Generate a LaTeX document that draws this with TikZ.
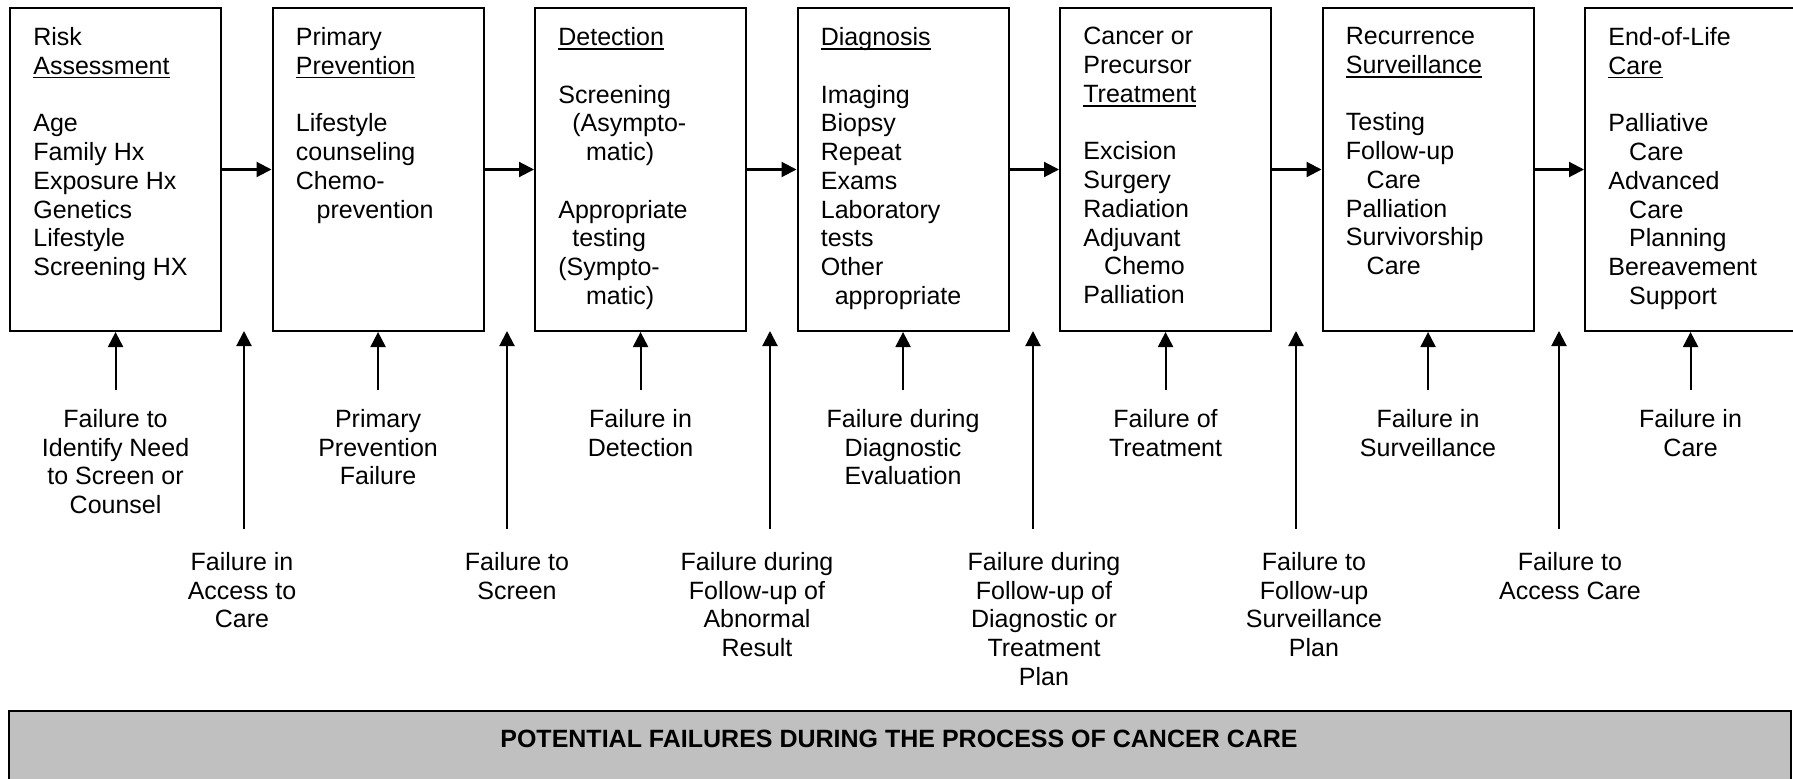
\documentclass[tikz,border=0pt]{standalone}
\usepackage{fontspec}
\setmainfont{Liberation Sans}
\usetikzlibrary{arrows.meta, positioning}

\definecolor{bandgray}{RGB}{192,192,192}
\newcommand\headword[1]{\setbox0\hbox{#1}\rlap{\rule[-2pt]{\wd0}{0.7pt}}\box0}

\begin{document}
\begin{tikzpicture}[x=0.48pt, y=-0.48pt,
  font=\fontsize{12}{13.8}\selectfont,
  stage/.style={draw, line width=1pt, anchor=north west, inner sep=0pt,
    minimum width=101.3pt, minimum height=155pt},
  stagetext/.style={anchor=north west, inner sep=0pt, align=left},
  failure/.style={anchor=north, inner xsep=0pt, inner ysep=9.1pt, align=center},
  flow/.style={-{Triangle[length=7.2pt, width=7.2pt]}, line width=1pt}]

  \path[use as bounding box, clip] (0,0) rectangle (1793,779);

  % stages of care
  \node[stage] (risk) at (9,7) {};
  \node[stage] (prevent) at (271.5,7) {};
  \node[stage] (detect) at (534,7) {};
  \node[stage] (diagnose) at (796.5,7) {};
  \node[stage] (treat) at (1059,7) {};
  \node[stage] (surveil) at (1321.5,7) {};
  \node[stage] (eol) at (1584,7) {};

  \node[stagetext, below right=9.6pt and 11.5pt of risk.north west] (risk-t)
    {Risk\\\headword{Assessment}\\ \\Age\\Family Hx\\Exposure Hx\\Genetics\\Lifestyle\\Screening HX};
  \node[stagetext, below right=9.6pt and 11.5pt of prevent.north west] (prevent-t)
    {Primary\\\headword{Prevention}\\ \\Lifestyle\\counseling\\Chemo-\\\hspace*{10pt}prevention};
  \node[stagetext, below right=9.6pt and 11.5pt of detect.north west] (detect-t)
    {\headword{Detection}\\ \\Screening\\\hspace*{6.7pt}(Asympto-\\\hspace*{13.3pt}matic)\\ \\Appropriate\\\hspace*{6.7pt}testing\\(Sympto-\\\hspace*{13.3pt}matic)};
  \node[stagetext, below right=9.6pt and 11.5pt of diagnose.north west] (diagnose-t)
    {\headword{Diagnosis}\\ \\Imaging\\Biopsy\\Repeat\\Exams\\Laboratory\\tests\\Other\\\hspace*{6.7pt}appropriate};
  \node[stagetext, below right=9.6pt and 11.5pt of treat.north west] (treat-t)
    {Cancer or\\Precursor\\\headword{Treatment}\\ \\Excision\\Surgery\\Radiation\\Adjuvant\\\hspace*{10pt}Chemo\\Palliation};
  \node[stagetext, below right=9.6pt and 11.5pt of surveil.north west] (surveil-t)
    {Recurrence\\\headword{Surveillance}\\ \\Testing\\Follow-up\\\hspace*{10pt}Care\\Palliation\\Survivorship\\\hspace*{10pt}Care};
  \node[stagetext, below right=9.6pt and 11.5pt of eol.north west] (eol-t)
    {End-of-Life\\\headword{Care}\\ \\Palliative\\\hspace*{10pt}Care\\Advanced\\\hspace*{10pt}Care\\\hspace*{10pt}Planning\\Bereavement\\\hspace*{10pt}Support};

  \draw[flow] (risk) -- (prevent);
  \draw[flow] (prevent) -- (detect);
  \draw[flow] (detect) -- (diagnose);
  \draw[flow] (diagnose) -- (treat);
  \draw[flow] (treat) -- (surveil);
  \draw[flow] (surveil) -- (eol);

  % failures within a stage
  \node[failure, below=27.8pt of risk] (risk-f) {Failure to\\Identify Need\\to Screen or\\Counsel};
  \node[failure, below=27.8pt of prevent] (prevent-f) {Primary\\Prevention\\Failure};
  \node[failure, below=27.8pt of detect] (detect-f) {Failure in\\Detection};
  \node[failure, below=27.8pt of diagnose] (diagnose-f) {Failure during\\Diagnostic\\Evaluation};
  \node[failure, below=27.8pt of treat] (treat-f) {Failure of\\Treatment};
  \node[failure, below=27.8pt of surveil] (surveil-f) {Failure in\\Surveillance};
  \node[failure, below=27.8pt of eol] (eol-f) {Failure in\\Care};

  \draw[flow] (risk-f) -- (risk);
  \draw[flow] (prevent-f) -- (prevent);
  \draw[flow] (detect-f) -- (detect);
  \draw[flow] (diagnose-f) -- (diagnose);
  \draw[flow] (treat-f) -- (treat);
  \draw[flow] (surveil-f) -- (surveil);
  \draw[flow] (eol-f) -- (eol);

  % failures between stages
  \coordinate (gap1) at (244,331);   \coordinate (gap1-end) at (244,529);
  \coordinate (gap2) at (507,331);   \coordinate (gap2-end) at (507,529);
  \coordinate (gap3) at (770,331);   \coordinate (gap3-end) at (770,529);
  \coordinate (gap4) at (1033,331);  \coordinate (gap4-end) at (1033,529);
  \coordinate (gap5) at (1296,331);  \coordinate (gap5-end) at (1296,529);
  \coordinate (gap6) at (1559,331);  \coordinate (gap6-end) at (1559,529);

  \node[failure] (access-f) at (242,533) {Failure in\\Access to\\Care};
  \node[failure] (screen-f) at (517,533) {Failure to\\Screen};
  \node[failure] (abnormal-f) at (757,533) {Failure during\\Follow-up of\\Abnormal\\Result};
  \node[failure] (plan-f) at (1044,533) {Failure during\\Follow-up of\\Diagnostic or\\Treatment\\Plan};
  \node[failure] (followup-f) at (1314,533) {Failure to\\Follow-up\\Surveillance\\Plan};
  \node[failure] (care-f) at (1570,533) {Failure to\\Access Care};

  \draw[flow] (gap1-end) -- (gap1);
  \draw[flow] (gap2-end) -- (gap2);
  \draw[flow] (gap3-end) -- (gap3);
  \draw[flow] (gap4-end) -- (gap4);
  \draw[flow] (gap5-end) -- (gap5);
  \draw[flow] (gap6-end) -- (gap6);

  % band
  \node[draw, line width=1pt, fill=bandgray, anchor=north west, inner sep=0pt,
    minimum width=855.4pt, minimum height=60pt] (band) at (8,710) {};
  \node[font=\fontsize{12}{13.8}\selectfont\bfseries, anchor=base] (band-t) at (899,747)
    {POTENTIAL FAILURES DURING THE PROCESS OF CANCER CARE};
\end{tikzpicture}
\end{document}
